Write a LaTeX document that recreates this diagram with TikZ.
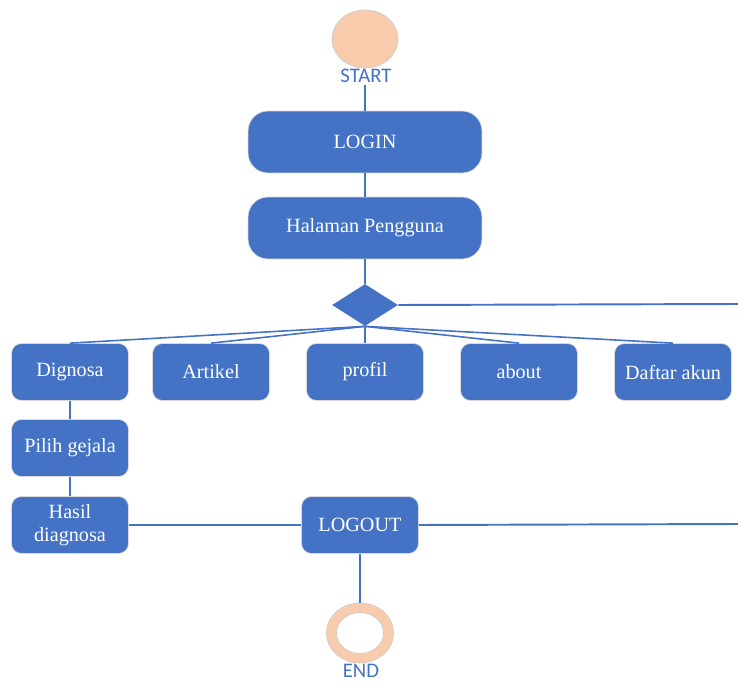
\documentclass[tikz,border=0pt]{standalone}
\usepackage{fontspec}
\setmainfont{Liberation Serif}
\newfontfamily\labelfont{Carlito}
\usepackage{tikz}
\usetikzlibrary{shapes.geometric}

\definecolor{flowblue}{HTML}{4472C4}
\definecolor{peach}{HTML}{F8CBAD}

\begin{document}
\begin{tikzpicture}[x=0.02cm, y=-0.02cm,
    bigbox/.style={rectangle, rounded corners=0.4cm, fill=flowblue, draw=gray!30, thin,
        minimum width=4.68cm, minimum height=1.24cm, text=white,
        font=\fontsize{11.5}{13}\selectfont},
    smallbox/.style={rectangle, rounded corners=0.2cm, fill=flowblue, draw=gray!30, thin,
        minimum width=2.34cm, minimum height=1.14cm, text=white, align=center,
        font=\fontsize{11.5}{13}\selectfont, inner sep=1pt},
    flowline/.style={flowblue, line width=1.1pt},
    termlabel/.style={text=flowblue, font=\labelfont\fontsize{11.8}{13}\selectfont, inner sep=1pt}]
                % Fix the page size
                \useasboundingbox (0,0) rectangle (738,682);

                % Start and end
                \node[ellipse, fill=peach, draw=gray!40, minimum width=1.32cm, minimum height=1.16cm, inner sep=0pt] (start) at (365,39) {};
                \node[termlabel] (startlbl) at (366,76) {START};
                \node[ellipse, fill=peach, draw=gray!40, minimum width=1.34cm, minimum height=1.2cm, inner sep=0pt] (endring) at (360,633) {};
                \node[ellipse, fill=white, draw=gray!40, minimum width=0.94cm, minimum height=0.82cm, inner sep=0pt] (endhole) at (360,633) {};
                \node[termlabel] (endlbl) at (361,671) {END};

                % Main boxes
                \node[bigbox] (login) at (365,142) {LOGIN};
                \node[bigbox] (home) at (365,228) {Halaman Pengguna};
                \node[diamond, fill=flowblue, minimum width=1.32cm, minimum height=0.84cm, inner sep=0pt] (menu) at (365,305) {};

                % Menu items
                \node[smallbox] (dig) at (70,372) {Dignosa};
                \node[smallbox] (art) at (211,372) {Artikel};
                \node[smallbox] (prof) at (365,372) {profil};
                \node[smallbox] (about) at (519,372) {about};
                \node[smallbox] (akun) at (673,372) {Daftar akun};
                \node[smallbox] (gejala) at (70,448) {Pilih gejala};
                \node[smallbox] (hasil) at (70,525) {Hasil\\diagnosa};
                \node[smallbox] (logout) at (360,525) {LOGOUT};

                % Loose ends on the right
                \coordinate (edgeA) at (738,304);
                \coordinate (edgeB) at (738,524);

                % Connectors
                \draw[flowline] (login.north |- startlbl.south) -- (login);
                \draw[flowline] (login) -- (home);
                \draw[flowline] (home) -- (menu);
                \draw[flowline] (menu.east) -- (edgeA);
                \foreach \item in {dig, art, prof, about, akun}
                    \draw[flowline, line width=0.9pt] (menu.south) -- (\item.north);
                \draw[flowline] (dig) -- (gejala);
                \draw[flowline] (gejala) -- (hasil);
                \draw[flowline] (hasil) -- (logout);
                \draw[flowline] (logout.east) -- (edgeB);
                \draw[flowline] (logout) -- (endring);
            \end{tikzpicture}
\end{document}
